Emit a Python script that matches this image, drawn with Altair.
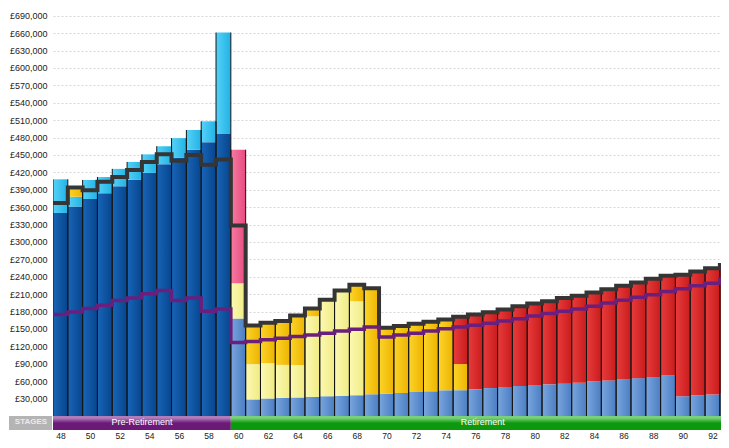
import altair as alt
import pandas as pd

# ---------------- data (values in £ thousands) ----------------
ages = list(range(48, 94))

dark_blue = [350, 361, 374, 384, 396, 407, 419, 434, 445, 459, 472, 486] + [0] * 34
cyan = [58, 17, 33, 28, 30, 31, 32, 31, 34, 34, 36, 175] + [0] * 34
gold = ([0, 13, 0, 0, 0, 0, 0, 0, 0, 0, 0, 0] + [0]
        + [65, 70, 76, 85, 13, 0, 0, 28, 183, 114, 115, 118, 120, 122, 45] + [0] * 18)
pale = [0] * 12 + [61] + [61, 61, 57, 56, 139, 167, 182, 162] + [0] * 25
steel = [0] * 12 + [168] + [28.5, 30.2, 31.2, 31.9, 32.9, 34.1, 34.6, 35.8, 37.5, 38.7,
                            39.7, 41.4, 42.6, 44.3, 44.5, 46, 48.2, 50, 51.7, 52.8,
                            54.6, 55.7, 57.4, 60.2, 61.4, 63.1, 65.3, 67, 69.9, 34.1,
                            35.8, 37, 38.7]
pink = [0] * 12 + [230] + [0] * 33
red = [0] * 27 + [81, 129, 131, 134, 137.5, 141, 143, 148, 150, 153, 157, 161, 165,
                  169, 172, 209, 213, 217.5, 221.5]

black_line = [367, 394, 389, 404, 412, 424, 438, 451, 440, 450, 433, 442, 328.5,
              156, 160.8, 163.7, 173.4, 185.3, 200.6, 216.5, 226.2, 220.4,
              152.2, 155.1, 159, 162.5, 166.5,
              171, 175, 179, 183.6, 189.2, 193.8, 197.7, 203.4, 207.5, 213.1, 218.7,
              224.5, 230.1, 236.4, 241.6, 243.3, 248.9, 254.5, 260.3]
purple_line = [175, 179.5, 185.3, 191, 199, 203.4, 210.8, 216.5, 199, 203.4, 180.7, 184.6,
               126.7, 128.4, 131.3, 134.2, 136.9, 139.8, 142.7, 146.6, 149.5, 153.4,
               136.4, 139.8, 142.7, 146.6, 150.5,
               153.5, 156.3, 159.7, 163.7, 167.6, 172.2, 176.8, 180.7, 184.6, 189.2, 194.8,
               199.4, 204.6, 209.2, 214.8, 219.4, 224.5, 228.9, 235.8]

stages = ["Pre-Retirement", "Retirement"]
stage_start = [48, 60]
stage_end = [59, 93]

y_ticks = list(range(30000, 690001, 30000))
x_ticks = list(range(48, 93, 2))

# ---------------- styling ----------------
Y_MIN, Y_MAX = -24100, 703300      # plot area value range; band occupies [Y_MIN, 0]
series = [
    ("steel", steel, "#7aa6de", "#4a7dc2"),
    ("dark_blue", dark_blue, "#1865b8", "#07458c"),
    ("cyan", cyan, "#55d2f8", "#22b2e4"),
    ("pale", pale, "#fcf9b4", "#f0eb82"),
    ("gold", gold, "#fbd52a", "#eeb300"),
    ("pink", pink, "#f67ca2", "#e84a7f"),
    ("red", red, "#e83c3c", "#c91b1b"),
]


def hgrad(c1, c2):
    return alt.Gradient(gradient="linear",
                        stops=[alt.GradientStop(color=c1, offset=0),
                               alt.GradientStop(color=c2, offset=1)],
                        x1=0, x2=1, y1=0, y2=0)


def vgrad(light, base):
    return alt.Gradient(gradient="linear",
                        stops=[alt.GradientStop(color=light, offset=0),
                               alt.GradientStop(color=light, offset=0.15),
                               alt.GradientStop(color=base, offset=0.5),
                               alt.GradientStop(color=base, offset=1)],
                        x1=0, x2=0, y1=0, y2=1)


# ---------------- tables ----------------
rows = []
totals = []
for i, age in enumerate(ages):
    lo = 0.0
    for name, vals, _, _ in series:
        v = vals[i] * 1000
        if v > 0:
            rows.append({"age": age, "series": name, "x0": age - 0.5, "x1": age + 0.5,
                         "lo": lo, "hi": lo + v})
            lo += v
    totals.append(lo)
bars = pd.DataFrame(rows)

edges = pd.DataFrame(
    [{"xe": a - 0.5, "lo": 0, "hi": t} for a, t in zip(ages, totals)]
    + [{"xe": a + 0.5, "lo": 0, "hi": t} for a, t in zip(ages, totals)]
)


def step_df(vals):
    xs = [a - 0.5 for a in ages] + [ages[-1] + 0.5]
    ys = [v * 1000 for v in vals] + [vals[-1] * 1000]
    return pd.DataFrame({"xs": xs, "v": ys})


band = pd.DataFrame({"stage": stages, "start": stage_start, "end": stage_end})

# ---------------- scales / axes ----------------
xsc = alt.Scale(domain=[47.5, 92.575], nice=False, zero=False)
ysc = alt.Scale(domain=[Y_MIN, Y_MAX], nice=False, zero=False)
xaxis = alt.Axis(values=x_ticks, format="d", ticks=False, domain=False, grid=False,
                 labelPadding=1, labelFontSize=8.5, labelFont="Liberation Sans",
                 labelColor="#222222", title=None, labelFlush=False)
yaxis = alt.Axis(values=y_ticks, labelExpr="'£' + format(datum.value, ',')",
                 ticks=False, domain=False, grid=True, gridDash=[2, 2],
                 gridColor="#d6d6d6", labelPadding=6, labelFontSize=9,
                 labelFont="Liberation Sans", labelColor="#222222", title=None)


def X(f):
    return alt.X(f, scale=xsc, axis=xaxis)


def Y(f):
    return alt.Y(f, scale=ysc, axis=yaxis)


layers = []
for name, _, c1, c2 in series:
    layers.append(
        alt.Chart(bars).transform_filter(alt.datum.series == name)
        .mark_bar(color=hgrad(c1, c2), clip=True)
        .encode(x=X("x0:Q"), x2="x1:Q", y=Y("lo:Q"), y2="hi:Q")
    )

layers.append(
    alt.Chart(edges).mark_rule(color="#151515", strokeWidth=1, clip=True)
    .encode(x=X("xe:Q"), y=Y("lo:Q"), y2="hi:Q")
)

layers.append(
    alt.Chart(step_df(black_line)).mark_line(interpolate="step-after", color="#353535",
                                             strokeWidth=4, clip=True)
    .encode(x=X("xs:Q"), y=Y("v:Q"))
)
layers.append(
    alt.Chart(step_df(purple_line)).mark_line(interpolate="step-after", color="#6a1f7c",
                                              strokeWidth=3.5, clip=True)
    .encode(x=X("xs:Q"), y=Y("v:Q"))
)

band_base = alt.Chart(band).transform_calculate(
    bx0="datum.start - 0.5", bx1="datum.end + 0.5", b0="0", b1=str(Y_MIN),
    mid="(datum.start + datum.end) / 2", ym=str(Y_MIN / 2)
)
band_colors = {"Pre-Retirement": ("#b07cba", "#6b1a78"),
               "Retirement": ("#78d078", "#0d990d")}
for st in stages:
    light, base = band_colors[st]
    layers.append(
        band_base.transform_filter(alt.datum.stage == st)
        .mark_rect(color=vgrad(light, base), clip=True)
        .encode(x=X("bx0:Q"), x2="bx1:Q", y=Y("b0:Q"), y2="b1:Q")
    )
layers.append(
    band_base.mark_text(color="white", fontSize=9, font="Liberation Sans",
                        baseline="middle", dy=-1, clip=True)
    .encode(x=X("mid:Q"), y=Y("ym:Q"), text="stage:N")
)

stages_hdr = pd.DataFrame({"label": ["STAGES"]})
hdr_base = alt.Chart(stages_hdr).transform_calculate(b0="0", b1=str(Y_MIN),
                                                     ym=str(Y_MIN / 2))
layers.append(
    hdr_base.mark_rect(color="#b4b4b4")
    .encode(x=alt.value(-44), x2=alt.value(-1), y=Y("b0:Q"), y2="b1:Q")
)
layers.append(
    hdr_base.mark_text(color="#ececec", fontSize=8, fontWeight="bold",
                       font="Liberation Sans", baseline="middle", dy=-1)
    .encode(x=alt.value(-22), y=Y("ym:Q"), text="label:N")
)

chart = (
    alt.layer(*layers)
    .properties(width=668, height=422,
                autosize=alt.AutoSizeParams(type="none"),
                padding={"left": 45, "top": 0, "right": 0, "bottom": 10},
                background="white")
    .configure_view(strokeWidth=0)
)

chart.save("out.html", embed_options={"renderer": "svg", "actions": False})
